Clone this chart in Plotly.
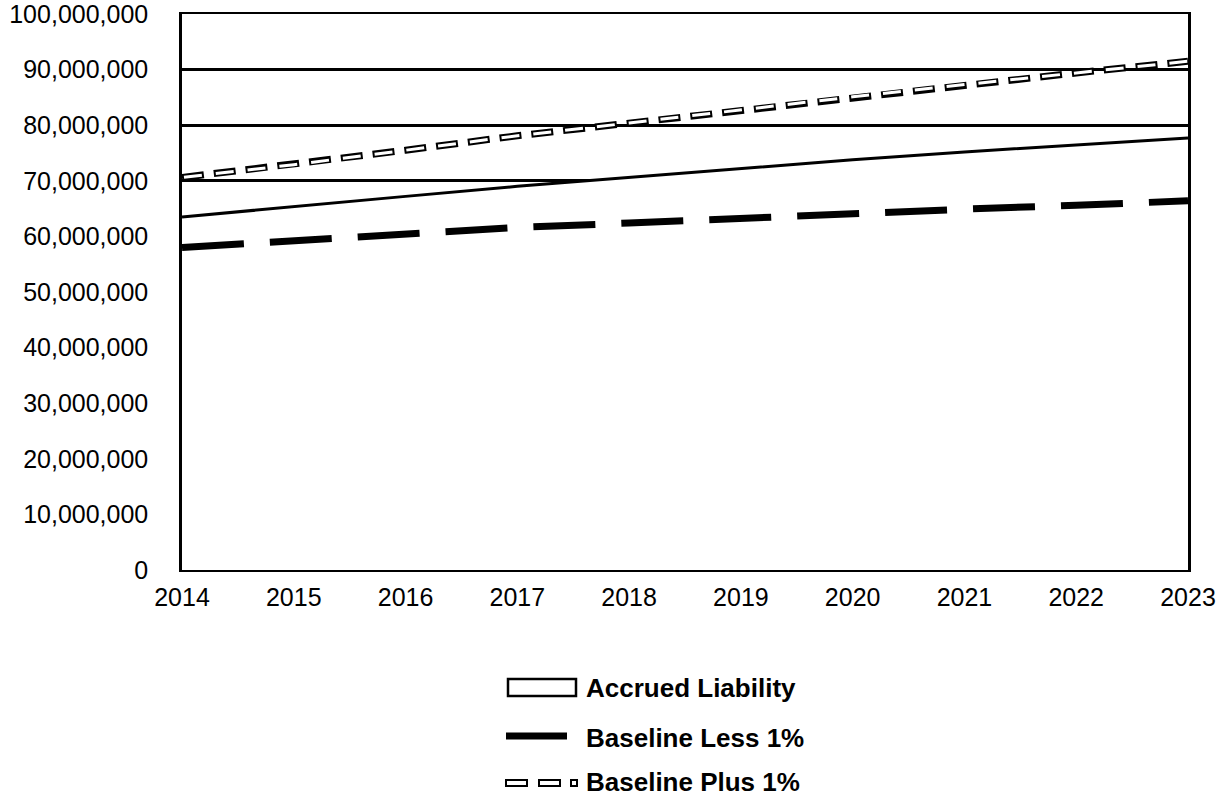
import plotly.graph_objects as go

years = [2014, 2015, 2016, 2017, 2018, 2019, 2020, 2021, 2022, 2023]
accrued_liability = [63.5e6, 65.4e6, 67.2e6, 69.0e6, 70.6e6, 72.2e6, 73.8e6, 75.2e6, 76.5e6, 77.7e6]
baseline_less_1 = [58.0e6, 59.2e6, 60.4e6, 61.6e6, 62.4e6, 63.3e6, 64.1e6, 64.9e6, 65.6e6, 66.4e6]
baseline_plus_1 = [70.6e6, 72.9e6, 75.5e6, 78.1e6, 80.4e6, 82.8e6, 85.1e6, 87.3e6, 89.4e6, 91.5e6]
y_ticks = [0, 10e6, 20e6, 30e6, 40e6, 50e6, 60e6, 70e6, 80e6, 90e6, 100e6]
legend_labels = ["Accrued Liability", "Baseline Less 1%", "Baseline Plus 1%"]

W, H = 1218, 799
L, R, T, B = 182, 30, 14, 229
PW, PH = W - L - R, H - T - B

def px_x(px):
    return (px - L) / PW

def px_y(py):
    return (H - B - py) / PH

FONT = "Liberation Sans, Arial, sans-serif"

fig = go.Figure()

fig.add_trace(go.Scatter(
    x=years, y=accrued_liability, mode="lines", name=legend_labels[0],
    line=dict(color="black", width=3), fill="tozeroy", fillcolor="white",
    showlegend=False))

fig.add_trace(go.Scatter(
    x=years, y=baseline_less_1, mode="lines", name=legend_labels[1],
    line=dict(color="black", width=7, dash="62px,26px"), showlegend=False))

fig.add_trace(go.Scatter(
    x=years, y=baseline_plus_1, mode="lines", name=legend_labels[2],
    line=dict(color="black", width=7, dash="22px,10px"), showlegend=False))
fig.add_trace(go.Scatter(
    x=years, y=baseline_plus_1, mode="lines", name=legend_labels[2],
    line=dict(color="white", width=3, dash="0px,2px,18px,12px"), showlegend=False,
    hoverinfo="skip"))

shapes = []
annotations = []
# Legend: Accrued Liability (hollow box)
shapes.append(dict(type="rect", xref="paper", yref="paper",
                   x0=px_x(508), x1=px_x(576), y0=px_y(696), y1=px_y(679),
                   line=dict(color="black", width=2.5), fillcolor="white"))
# Legend: Baseline Less 1% (thick line)
shapes.append(dict(type="line", xref="paper", yref="paper",
                   x0=px_x(506), x1=px_x(567), y0=px_y(736), y1=px_y(736),
                   line=dict(color="black", width=7)))
# Legend: Baseline Plus 1% (hollow dashes)
for a, b in [(506, 527), (539, 560), (571, 577)]:
    shapes.append(dict(type="rect", xref="paper", yref="paper",
                       x0=px_x(a), x1=px_x(b), y0=px_y(786), y1=px_y(780),
                       line=dict(color="black", width=2), fillcolor="white"))

for lab, py in zip(legend_labels, [688, 738, 782]):
    annotations.append(dict(text="<b>" + lab + "</b>", xref="paper", yref="paper",
                            x=px_x(584), y=px_y(py), xanchor="left", yanchor="middle",
                            showarrow=False, font=dict(size=26, color="black", family=FONT)))

fig.update_layout(
    width=W, height=H,
    margin=dict(l=L, r=R, t=T, b=B, autoexpand=False),
    paper_bgcolor="white", plot_bgcolor="white",
    font=dict(family=FONT, size=25, color="black"),
    shapes=shapes, annotations=annotations,
    showlegend=False,
    xaxis=dict(range=[2014, 2023], tickvals=years, ticktext=[str(y) for y in years],
               showgrid=False, zeroline=False, showline=True, linecolor="black",
               linewidth=2, mirror=True, ticks="outside", ticklen=4, tickcolor="rgba(0,0,0,0)",
               ticklabeloverflow="allow", automargin=False,
               tickfont=dict(size=25, family=FONT, color="black")),
    yaxis=dict(range=[0, 100e6], tickvals=y_ticks, tickformat=",d",
               showgrid=True, gridcolor="black", gridwidth=2.5, zeroline=False,
               showline=True, linecolor="black", linewidth=2.5, mirror=True,
               ticks="outside", ticklen=26, tickcolor="rgba(0,0,0,0)",
               ticklabeloverflow="allow", automargin=False,
               tickfont=dict(size=25, family=FONT, color="black")),
)

fig.write_html("out.html")
